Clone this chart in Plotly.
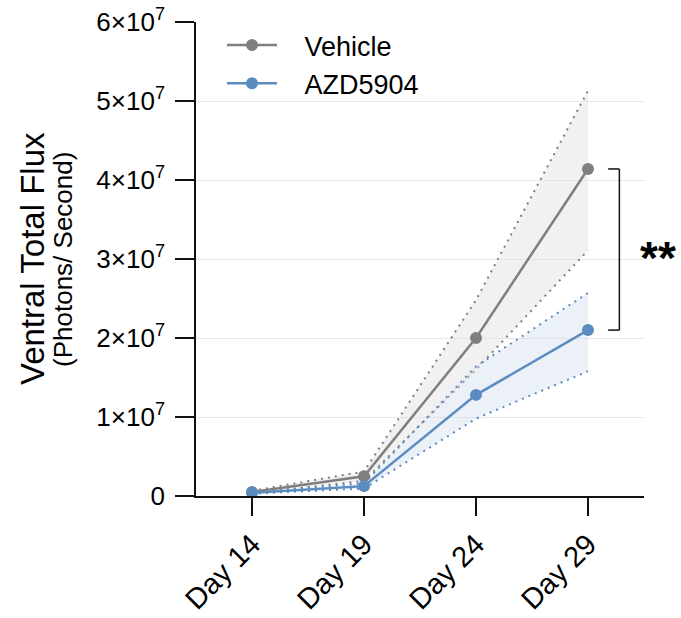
import plotly.graph_objects as go

# Imaging timepoints
days = ["Day 14", "Day 19", "Day 24", "Day 29"]

# Ventral total flux (photons/second): group mean and upper/lower band limits
vehicle_mean = [5.0e5, 2.5e6, 2.0e7, 4.14e7]
vehicle_upper = [6.5e5, 3.1e6, 2.48e7, 5.13e7]
vehicle_lower = [3.5e5, 1.9e6, 1.6e7, 3.11e7]

azd_mean = [4.0e5, 1.25e6, 1.28e7, 2.1e7]
azd_upper = [5.0e5, 1.6e6, 1.64e7, 2.57e7]
azd_lower = [3.0e5, 0.95e6, 0.98e7, 1.58e7]

y_ticks = [0, 1e7, 2e7, 3e7, 4e7, 5e7, 6e7]
y_ticktext = ["0"] + [f"{k}×10<sup>7</sup>" for k in range(1, 7)]

GRAY = "#7f7f7f"
BLUE = "#5b8cc0"
GRAY_FILL = "rgba(225,225,225,0.45)"
BLUE_FILL = "rgba(205,220,236,0.40)"
FONT = "Liberation Sans, Arial, sans-serif"
NBSP = "\u00a0"

x_idx = list(range(len(days)))

fig = go.Figure()


def add_band(upper, lower, color, fill):
    # lower band edge first, then the upper edge fills down to it
    fig.add_trace(go.Scatter(
        x=x_idx, y=lower, mode="lines",
        line=dict(color=color, width=2, dash="2px,5px"),
        showlegend=False, hoverinfo="skip",
    ))
    fig.add_trace(go.Scatter(
        x=x_idx, y=upper, mode="lines", fill="tonexty", fillcolor=fill,
        line=dict(color=color, width=2, dash="2px,5px"),
        showlegend=False, hoverinfo="skip",
    ))


add_band(vehicle_upper, vehicle_lower, GRAY, GRAY_FILL)
add_band(azd_upper, azd_lower, BLUE, BLUE_FILL)

fig.add_trace(go.Scatter(
    x=x_idx, y=vehicle_mean, mode="lines+markers", name=NBSP * 3 + "Vehicle",
    line=dict(color=GRAY, width=2.5), marker=dict(color=GRAY, size=12),
))
fig.add_trace(go.Scatter(
    x=x_idx, y=azd_mean, mode="lines+markers", name=NBSP * 3 + "AZD5904",
    line=dict(color=BLUE, width=2.5), marker=dict(color=BLUE, size=12),
))

# Significance bracket between the Day 29 means
last = len(days) - 1
b_top = vehicle_mean[last]
b_bot = azd_mean[last]
bx0 = last + 0.18
bx1 = last + 0.28
for y0, y1, xa, xb in [(b_top, b_top, bx0, bx1), (b_bot, b_bot, bx0, bx1), (b_bot, b_top, bx1, bx1)]:
    fig.add_shape(type="line", xref="x", yref="y", x0=xa, x1=xb, y0=y0, y1=y1,
                  line=dict(color="#111111", width=1.5))

fig.add_annotation(
    xref="paper", yref="y", x=1.031, y=(b_top + b_bot) / 2,
    text="<b>**</b>", showarrow=False, font=dict(family=FONT, size=46, color="#000"),
    xanchor="center", yanchor="middle", yshift=-8,
)

# Two-line y axis title
fig.add_annotation(
    xref="paper", yref="paper", x=-0.366, y=0.5, text="Ventral Total Flux",
    textangle=-90, showarrow=False, font=dict(family=FONT, size=33, color="#000"),
    xanchor="center", yanchor="middle",
)
fig.add_annotation(
    xref="paper", yref="paper", x=-0.297, y=0.5, text="(Photons/ Second)",
    textangle=-90, showarrow=False, font=dict(family=FONT, size=26, color="#000"),
    xanchor="center", yanchor="middle",
)

fig.update_layout(
    width=681, height=618,
    margin=dict(l=196, r=37, t=22, b=122, autoexpand=False),
    plot_bgcolor="white", paper_bgcolor="white",
    font=dict(family=FONT, color="#000"),
    showlegend=True,
    legend=dict(
        x=0.058, y=1.002, xanchor="left", yanchor="top", traceorder="normal",
        font=dict(family=FONT, size=27, color="#000"),
        bgcolor="rgba(0,0,0,0)", itemwidth=50, tracegroupgap=0,
    ),
)

fig.update_xaxes(
    range=[-0.5, 3.5], tickvals=x_idx, ticktext=days, tickangle=-45,
    showline=True, linecolor="#111", linewidth=1.5,
    ticks="outside", ticklen=18, tickwidth=1.5, tickcolor="#111",
    showgrid=False, zeroline=False, automargin=False,
    tickfont=dict(family=FONT, size=29, color="#000"),
)
fig.update_yaxes(
    range=[0, 6e7], tickvals=y_ticks, ticktext=y_ticktext,
    showline=True, linecolor="#111", linewidth=1.5,
    ticks="outside", ticklen=19, tickwidth=1.5, tickcolor="#111",
    showgrid=True, gridcolor="#e8e8e8", gridwidth=1, zeroline=False, automargin=False,
    ticklabelstandoff=5,
    tickfont=dict(family=FONT, size=26, color="#000"),
)

fig.write_html("out.html")
